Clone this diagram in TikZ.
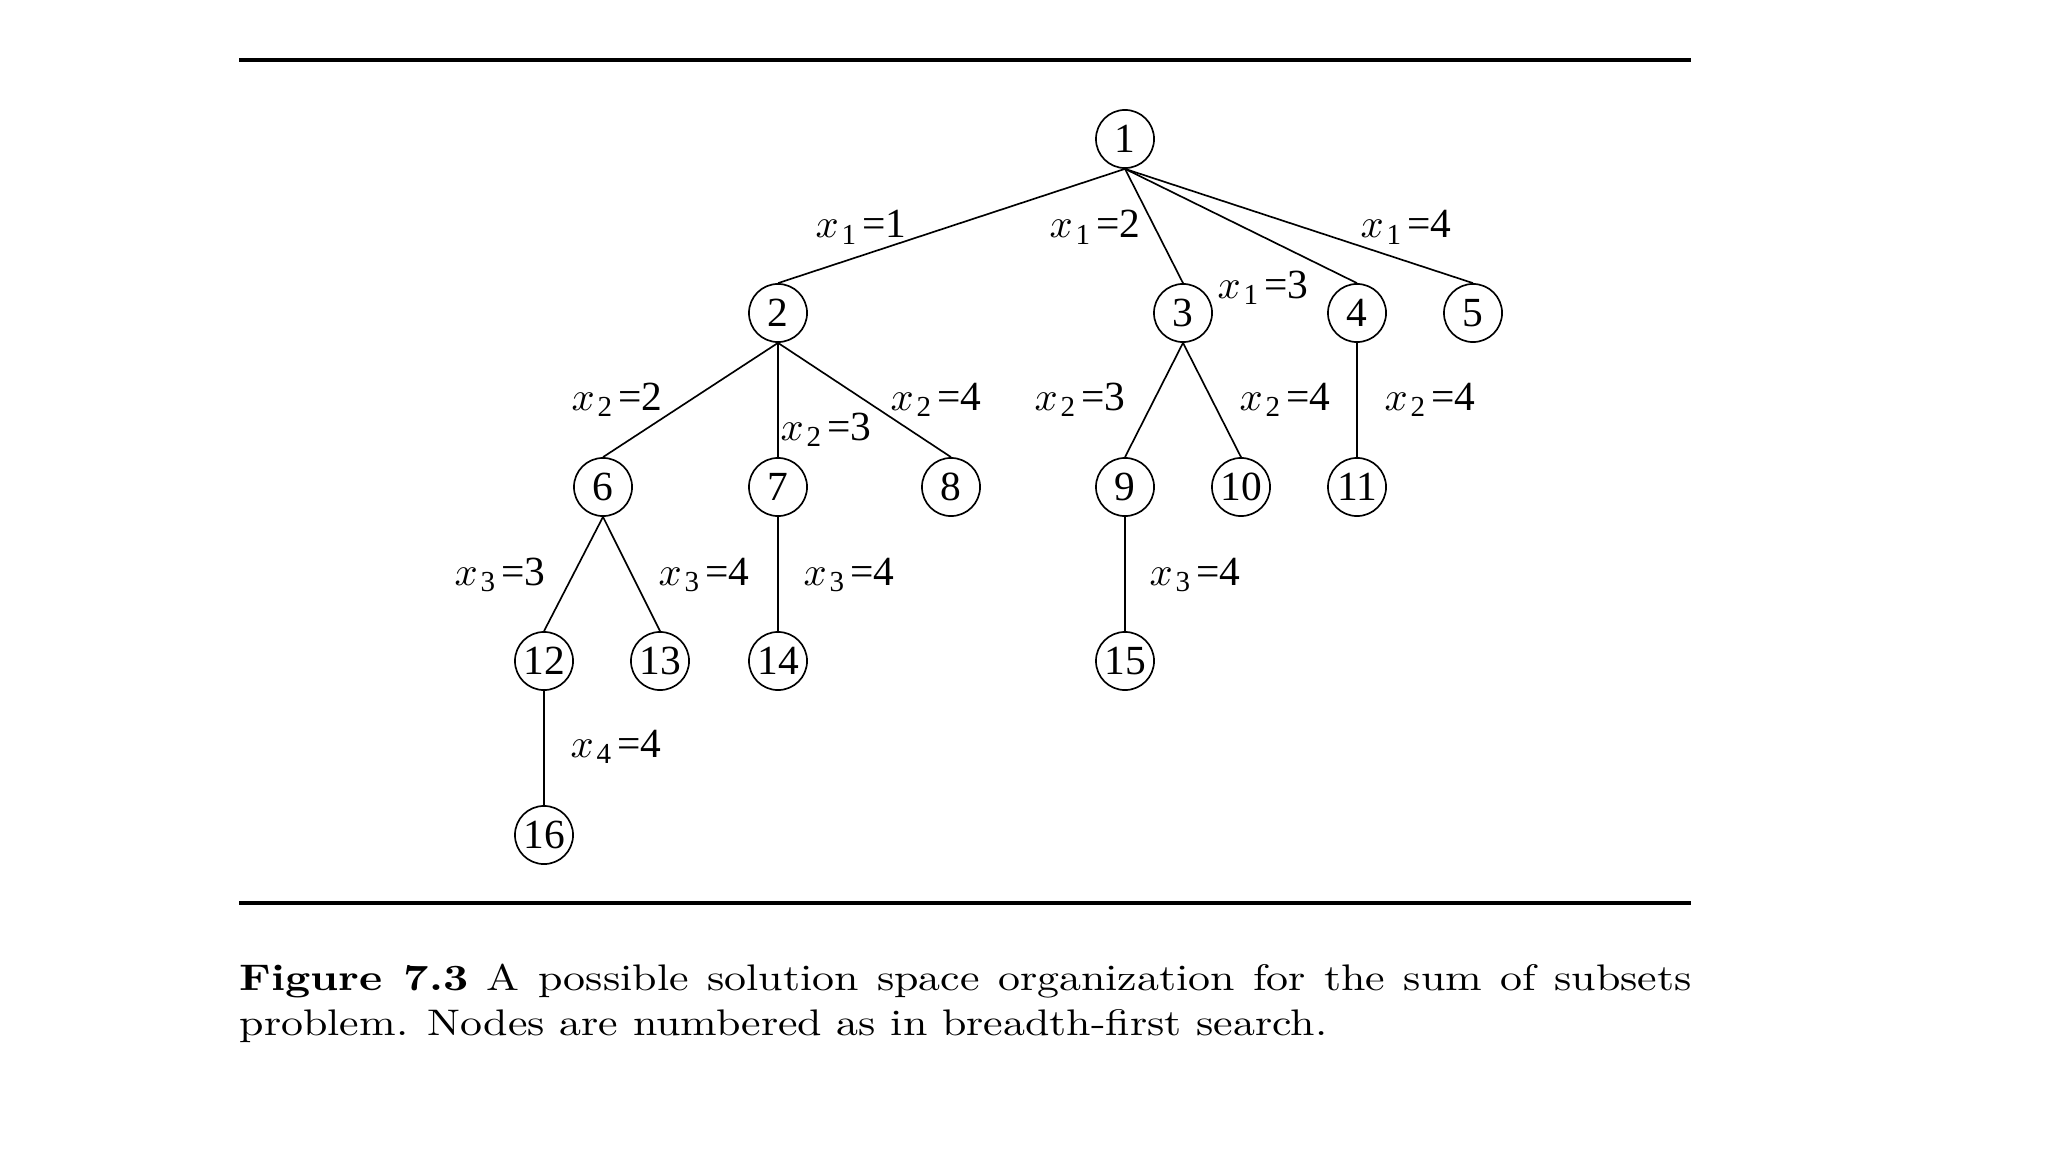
\documentclass[tikz,border=0pt]{standalone}
\usepackage{graphicx}
\usepackage{fontspec}
\newfontfamily\tfont{Liberation Serif}
\newcommand\xeq[2]{$x$\kern0.8pt\textsubscript{#1}\kern1.2pt=#2}
\begin{document}
\begin{tikzpicture}[x=0.27027pt,y=-0.27027pt,
  vtx/.style={circle,draw,line width=0.45pt,minimum size=15.7pt,inner sep=0pt,font=\tfont\fontsize{11.2}{13}\selectfont},
  edge/.style={line width=0.45pt},
  lab/.style={anchor=base,inner sep=0pt,font=\tfont\fontsize{11.2}{13}\selectfont},
  hrule/.style={line width=0.85pt}]
\useasboundingbox (0,0) rectangle (2048,1152);
% rules
\coordinate (t1) at (239,60);
\coordinate (t2) at (1691,60);
\coordinate (b1) at (239,903);
\coordinate (b2) at (1691,903);
\draw[hrule] (t1) -- (t2);
\draw[hrule] (b1) -- (b2);
% nodes
\node[vtx] (n1) at (1125,139) {1};
\node[vtx] (n2) at (778,313) {2};
\node[vtx] (n3) at (1183,313) {3};
\node[vtx] (n4) at (1357,313) {4};
\node[vtx] (n5) at (1473,313) {5};
\node[vtx] (n6) at (603,487) {6};
\node[vtx] (n7) at (778,487) {7};
\node[vtx] (n8) at (951,487) {8};
\node[vtx] (n9) at (1125,487) {9};
\node[vtx] (n10) at (1241,487) {10};
\node[vtx] (n11) at (1357,487) {11};
\node[vtx] (n12) at (544,661) {12};
\node[vtx] (n13) at (660,661) {13};
\node[vtx] (n14) at (778,661) {14};
\node[vtx] (n15) at (1125,661) {15};
\node[vtx] (n16) at (544,835) {16};
% edges
\foreach \p/\c in {n1/n2,n1/n3,n1/n4,n1/n5,n2/n6,n2/n7,n2/n8,n3/n9,n3/n10,n4/n11,n6/n12,n6/n13,n7/n14,n9/n15,n12/n16}
  \draw[edge] (\p.south) -- (\c.north);
% labels
\node[lab] (l11) at (861,238) {\xeq{1}{1}};
\node[lab] (l12) at (1095,238) {\xeq{1}{2}};
\node[lab] (l13) at (1263,298) {\xeq{1}{3}};
\node[lab] (l14) at (1406,238) {\xeq{1}{4}};
\node[lab] (l22) at (617,410) {\xeq{2}{2}};
\node[lab] (l23a) at (826,440) {\xeq{2}{3}};
\node[lab] (l24a) at (936,410) {\xeq{2}{4}};
\node[lab] (l23b) at (1080,410) {\xeq{2}{3}};
\node[lab] (l24b) at (1285,410) {\xeq{2}{4}};
\node[lab] (l24c) at (1430,410) {\xeq{2}{4}};
\node[lab] (l33) at (500,585) {\xeq{3}{3}};
\node[lab] (l34a) at (704,585) {\xeq{3}{4}};
\node[lab] (l34b) at (849,585) {\xeq{3}{4}};
\node[lab] (l34c) at (1195,585) {\xeq{3}{4}};
\node[lab] (l44) at (616,757) {\xeq{4}{4}};
% caption
\node[anchor=base west,inner sep=0pt] (cap) at (239,990)
  {\scalebox{1.187}[1]{\parbox[t]{330.6pt}{\fontsize{10}{12.2}\selectfont{\bfseries Figure 7.3} A possible solution space organization for the sum of subsets\linebreak problem. Nodes are numbered as in breadth-first search.}}};
\end{tikzpicture}
\end{document}
